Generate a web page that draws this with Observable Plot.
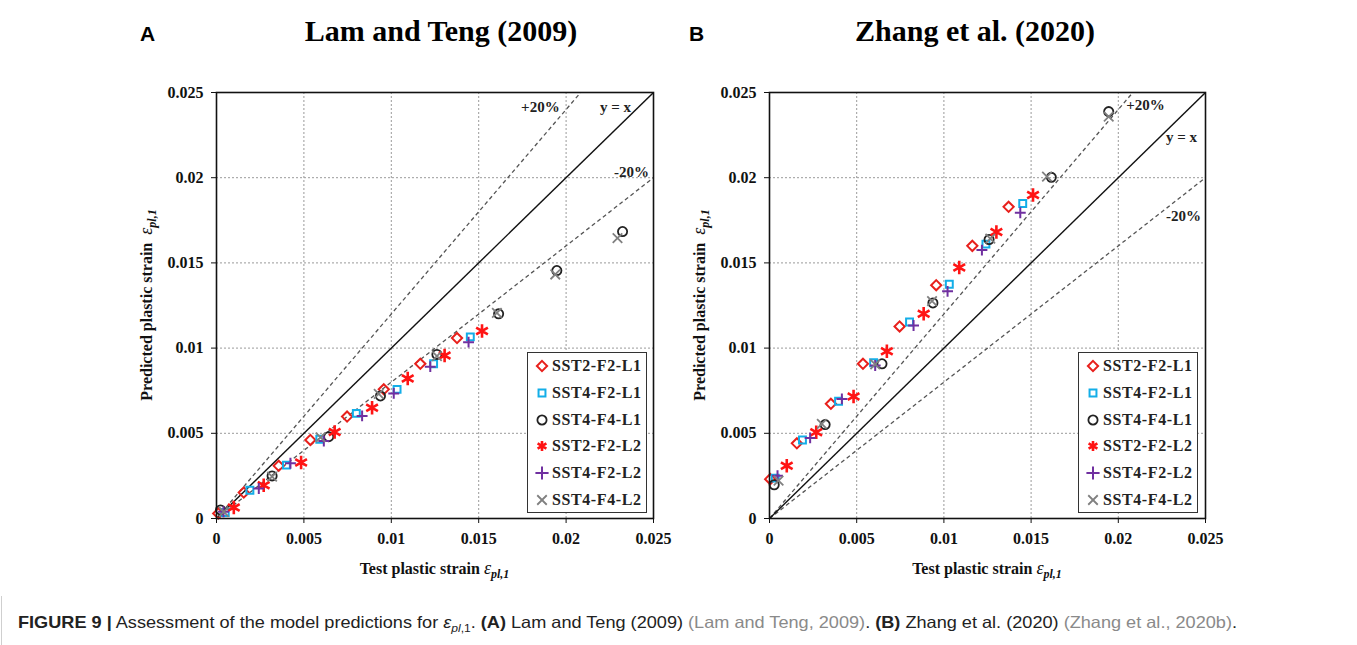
<!DOCTYPE html>
<html>
<head>
<meta charset="utf-8">
<script src="https://cdn.jsdelivr.net/npm/d3@7"></script>
<script src="https://cdn.jsdelivr.net/npm/@observablehq/plot@0.6"></script>
<style>
  html, body { margin: 0; padding: 0; background: #fff; }
  #page { position: relative; width: 1357px; height: 645px; overflow: hidden; background: #fff; }
  .panel { position: absolute; top: 0; }
  .letter { position: absolute; font-family: "Liberation Sans", Arial, sans-serif; font-weight: bold; font-size: 21px; }
  .title { position: absolute; font-family: "Liberation Serif", "Times New Roman", serif; font-weight: bold; font-size: 30px; transform: translateX(-50%); white-space: nowrap; }
  .legend { position: absolute; border: 1.5px solid #333; background: #fff; box-sizing: border-box; }
  .legend .row { position: absolute; left: 0; height: 20px; display: flex; align-items: center; font-family: "Liberation Serif", serif; font-weight: bold; font-size: 16px; letter-spacing: 0.6px; color: #222; white-space: nowrap; }
  .legend svg { margin-right: 2px; }
  #caption { position: absolute; left: 18px; top: 613px; font-family: "Liberation Sans", Arial, sans-serif; font-size: 16.5px; color: #222; white-space: nowrap; transform-origin: 0 0; }
  #caption .ref { color: #8a8a8a; }
  #frame { position: absolute; left: 1px; top: 596px; width: 2px; height: 60px; border-left: 1px solid #cfcfcf; box-sizing: border-box; }
</style>
</head>
<body>
<div id="page">
  <div id="frame"></div>
  <div class="letter" style="left:140px; top:22px;">A</div>
  <div class="title" style="left:441px; top:14px;">Lam and Teng (2009)</div>
  <div class="letter" style="left:689px; top:22px;">B</div>
  <div class="title" style="left:975px; top:14px;">Zhang et al. (2020)</div>
  <div id="caption"><b>FIGURE 9 |</b> Assessment of the model predictions for <i>ε</i><sub style="font-size:11px"><i>pl</i>,1</sub>. <b>(A)</b> Lam and Teng (2009) <span class="ref">(Lam and Teng, 2009)</span>. <b>(B)</b> Zhang et al. (2020) <span class="ref">(Zhang et al., 2020b)</span>.</div>
</div>
<script>
// ---------- data ----------
const seriesNames = ["SST2-F2-L1", "SST4-F2-L1", "SST4-F4-L1", "SST2-F2-L2", "SST4-F2-L2", "SST4-F4-L2"];
const seriesColors = ["#e8201c", "#13aee8", "#222222", "#ff1414", "#7030a0", "#808080"];
const seriesSymbols = ["diamond2", "square2", "circle", "asterisk", "plus", "times"];
const axisTicks = [0, 0.005, 0.01, 0.015, 0.02, 0.025];
const guideRatios = [1, 1.2, 0.8];

// Panel A: Lam and Teng (2009)  [test, predicted]
const A_SST2_F2_L1 = [[0.0001, 0.0003], [0.00156, 0.00152], [0.00356, 0.00309], [0.00537, 0.00461], [0.00747, 0.00598], [0.00957, 0.00758], [0.01166, 0.00908], [0.01376, 0.01059]];
const A_SST4_F2_L1 = [[0.0005, 0.00035], [0.00191, 0.00166], [0.0040, 0.00313], [0.00591, 0.00465], [0.0080, 0.00617], [0.01033, 0.00758], [0.01242, 0.00908], [0.01452, 0.01066]];
const A_SST4_F4_L1 = [[0.00023, 0.0005], [0.00318, 0.0025], [0.00642, 0.0048], [0.00938, 0.00719], [0.01261, 0.00963], [0.01614, 0.01201], [0.01947, 0.01455], [0.02323, 0.01684]];
const A_SST2_F2_L2 = [[0.00099, 0.00064], [0.0027, 0.00195], [0.00484, 0.00328], [0.00676, 0.00508], [0.0089, 0.0065], [0.01094, 0.00822], [0.01305, 0.00957], [0.01519, 0.011]];
const A_SST4_F2_L2 = [[0.0004, 0.0004], [0.00242, 0.00176], [0.00423, 0.00324], [0.00614, 0.00455], [0.00833, 0.00602], [0.01014, 0.00734], [0.01223, 0.00891], [0.01442, 0.01035]];
const A_SST4_F4_L2 = [[0.00042, 0.00039], [0.00318, 0.00246], [0.00595, 0.00476], [0.00928, 0.00731], [0.01261, 0.00953], [0.01604, 0.01207], [0.01938, 0.01432], [0.02294, 0.01645]];

// Panel B: Zhang et al. (2020)  [test, predicted]
const B_SST2_F2_L1 = [[0.00004, 0.00231], [0.00157, 0.00441], [0.00352, 0.00673], [0.00536, 0.00908], [0.00746, 0.01127], [0.00956, 0.01369], [0.01163, 0.016], [0.01371, 0.01829]];
const B_SST4_F2_L1 = [[0.00033, 0.00237], [0.00189, 0.00461], [0.00396, 0.00688], [0.00597, 0.00914], [0.00803, 0.01153], [0.01031, 0.01375], [0.01241, 0.0161], [0.01452, 0.01849]];
const B_SST4_F4_L1 = [[0.00027, 0.00198], [0.00319, 0.00551], [0.00645, 0.00908], [0.00937, 0.01265], [0.01259, 0.01637], [0.01616, 0.02002], [0.01945, 0.02388]];
const B_SST2_F2_L2 = [[0.00099, 0.0031], [0.00268, 0.00506], [0.00482, 0.00716], [0.00673, 0.00982], [0.00884, 0.01202], [0.01088, 0.01473], [0.01301, 0.01682], [0.01511, 0.01898]];
const B_SST4_F2_L2 = [[0.00046, 0.00251], [0.00233, 0.00473], [0.00415, 0.00702], [0.00606, 0.00898], [0.00826, 0.01133], [0.01021, 0.01333], [0.01218, 0.01575], [0.01438, 0.01794]];
const B_SST4_F4_L2 = [[0.00052, 0.00222], [0.003, 0.00555], [0.00606, 0.00904], [0.00932, 0.01276], [0.01266, 0.01643], [0.01591, 0.02006], [0.01945, 0.02359]];

// guide-line annotations [text, x, y]
const A_notes = [["+20%", 0.01853, 0.02412], ["y = x", 0.02283, 0.02412], ["-20%", 0.02374, 0.0203]];
const B_notes = [["+20%", 0.02156, 0.02424], ["y = x", 0.02362, 0.02236], ["-20%", 0.02374, 0.01772]];

// ---------- drawing ----------
const serif = "'Liberation Serif', 'Times New Roman', serif";
const symbolRadius = {diamond2: 4.6, square2: 4.4, circle: 4.6, asterisk: 6.4, plus: 3.6, times: 4.4};
const symbolStroke = {diamond2: 2, square2: 2, circle: 1.8, asterisk: 2.6, plus: 2, times: 1.8};

function makePanel(seriesList, notes, plotWidth) {
  const rows = seriesList.flatMap((pts, i) => pts.map(([x, y]) => ({x, y, name: seriesNames[i], sym: seriesSymbols[i]})));
  const W = 545, H = 590, ML = 86, MT = 92, MB = 72;
  const fmt = d => String(+d.toFixed(3));
  const dotMarks = seriesSymbols.map(sym => Plot.dot(rows.filter(d => d.sym === sym), {
    x: "x", y: "y", symbol: "name", stroke: "name", r: symbolRadius[sym], strokeWidth: symbolStroke[sym]
  }));
  const chart = Plot.plot({
    width: W, height: H,
    marginLeft: ML, marginRight: W - ML - plotWidth, marginTop: MT, marginBottom: MB,
    style: {fontFamily: serif, fontWeight: "bold", fontSize: "16px", color: "#111", background: "transparent"},
    x: {domain: [0, 0.025], label: null},
    y: {domain: [0, 0.025], label: null},
    color: {domain: seriesNames, range: seriesColors},
    symbol: {domain: seriesNames, range: seriesSymbols},
    marks: [
      Plot.gridX(axisTicks.slice(1, -1), {stroke: "#9a9a9a", strokeOpacity: 1, strokeDasharray: "2,2", strokeWidth: 1}),
      Plot.gridY(axisTicks.slice(1, -1), {stroke: "#9a9a9a", strokeOpacity: 1, strokeDasharray: "2,2", strokeWidth: 1}),
      Plot.link(guideRatios.filter(k => k !== 1), {
        x1: () => 0, y1: () => 0, x2: () => 0.025, y2: k => 0.025 * k, clip: true,
        stroke: "#555", strokeDasharray: "4,3", strokeWidth: 1.3
      }),
      Plot.link(guideRatios.filter(k => k === 1), {
        x1: () => 0, y1: () => 0, x2: () => 0.025, y2: k => 0.025 * k, clip: true,
        stroke: "#111", strokeWidth: 1.4
      }),
      ...dotMarks,
      Plot.text(notes, {x: d => d[1], y: d => d[2], text: d => d[0], fontFamily: serif, fontWeight: "bold", fontSize: 15, fill: "#222"}),
      Plot.frame({stroke: "#111", strokeWidth: 1.6}),
      Plot.axisX({ticks: axisTicks, tickSize: 5, tickPadding: 9, tickFormat: fmt, label: null}),
      Plot.axisY({ticks: axisTicks, tickSize: 5, tickPadding: 8, tickFormat: fmt, label: null})
    ]
  });
  // axis titles with subscript
  const svg = d3.select(chart);
  const cx = ML + plotWidth / 2, cy = MT + (H - MT - MB) / 2;
  const xl = svg.append("text").attr("x", cx).attr("y", H - 16).attr("text-anchor", "middle")
    .attr("font-family", serif).attr("font-weight", "bold").attr("font-size", 16).attr("fill", "#111");
  xl.append("tspan").text("Test plastic strain ");
  xl.append("tspan").attr("font-style", "italic").attr("font-size", 18).attr("font-weight", "normal").text("ε");
  xl.append("tspan").attr("font-style", "italic").attr("font-size", 12).attr("dy", 4).text("pl,1");
  const yl = svg.append("text").attr("transform", `translate(${ML - 64},${cy}) rotate(-90)`).attr("text-anchor", "middle")
    .attr("font-family", serif).attr("font-weight", "bold").attr("font-size", 16).attr("fill", "#111");
  yl.append("tspan").text("Predicted plastic strain  ");
  yl.append("tspan").attr("font-style", "italic").attr("font-size", 18).attr("font-weight", "normal").text("ε");
  yl.append("tspan").attr("font-style", "italic").attr("font-size", 12).attr("dy", 4).text("pl,1");
  return chart;
}

const symbolMap = {diamond2: d3.symbolDiamond2, square2: d3.symbolSquare2, circle: d3.symbolCircle, asterisk: d3.symbolAsterisk, plus: d3.symbolPlus, times: d3.symbolTimes};

function makeLegend(left, top) {
  const box = document.createElement("div");
  box.className = "legend";
  Object.assign(box.style, {left: left + "px", top: top + "px", width: "120px", height: "161px"});
  seriesNames.forEach((name, i) => {
    const sym = seriesSymbols[i];
    const row = document.createElement("div");
    row.className = "row";
    row.style.top = (3 + i * 26.8) + "px";
    row.style.left = "6px";
    const s = d3.create("svg").attr("width", 16).attr("height", 16);
    const rr = Math.min(symbolRadius[sym], 4.8) * (sym === "plus" ? 1.2 : 1);
    s.append("path").attr("transform", "translate(8,8)")
      .attr("d", d3.symbol(symbolMap[sym], rr * rr * Math.PI)())
      .attr("fill", "none").attr("stroke", seriesColors[i]).attr("stroke-width", symbolStroke[sym]);
    row.appendChild(s.node());
    const t = document.createElement("span");
    t.textContent = name;
    row.appendChild(t);
    box.appendChild(row);
  });
  return box;
}

const page = document.getElementById("page");
const pA = makePanel([A_SST2_F2_L1, A_SST4_F2_L1, A_SST4_F4_L1, A_SST2_F2_L2, A_SST4_F2_L2, A_SST4_F4_L2], A_notes, 437);
const divA = document.createElement("div"); divA.className = "panel"; divA.style.left = "130px"; divA.appendChild(pA); page.appendChild(divA);
const pB = makePanel([B_SST2_F2_L1, B_SST4_F2_L1, B_SST4_F4_L1, B_SST2_F2_L2, B_SST4_F2_L2, B_SST4_F4_L2], B_notes, 436);
const divB = document.createElement("div"); divB.className = "panel"; divB.style.left = "683px"; divB.appendChild(pB); page.appendChild(divB);
page.appendChild(makeLegend(527, 352));
page.appendChild(makeLegend(1078, 352));

// fit caption to the reference's line length
const cap = document.getElementById("caption");
const capW = cap.getBoundingClientRect().width;
cap.style.transform = `scaleX(${1219 / capW})`;
</script>
</body>
</html>
